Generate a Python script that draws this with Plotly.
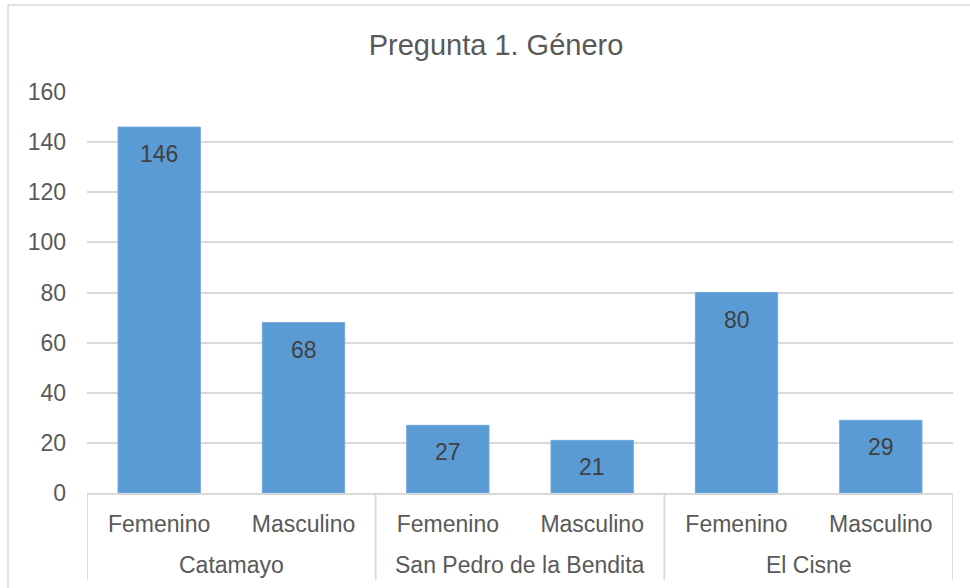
import plotly.graph_objects as go

groups = ["Catamayo", "Catamayo", "San Pedro de la Bendita", "San Pedro de la Bendita", "El Cisne", "El Cisne"]
categories = ["Femenino", "Masculino", "Femenino", "Masculino", "Femenino", "Masculino"]
values = [146, 68, 27, 21, 80, 29]
group_names = ["Catamayo", "San Pedro de la Bendita", "El Cisne"]
y_ticks = [0, 20, 40, 60, 80, 100, 120, 140, 160]

FONT = "Liberation Sans, Arial, sans-serif"
TXT = "#595959"
GRID = "#D9D9D9"

W, H = 970, 588
L, R, T, B = 87, 17, 92, 95
pw, ph = W - L - R, H - T - B

xpos = list(range(len(values)))

fig = go.Figure()
fig.add_trace(go.Bar(
    x=xpos, y=values, width=0.57,
    marker=dict(color="#5B9BD5", line=dict(color="#6FA8DC", width=1)),
    hoverinfo="skip",
))

annotations = []
for xi, v in zip(xpos, values):
    annotations.append(dict(
        x=xi, y=v, xref="x", yref="y", text=str(v), showarrow=False,
        yanchor="middle", yshift=-27,
        font=dict(family=FONT, size=23, color="#404040"),
    ))

# group labels (second row of category axis)
for gi, g in enumerate(group_names):
    annotations.append(dict(
        x=gi * 2 + 0.5, y=(493 - 565) / ph, xref="x", yref="paper",
        text=g, showarrow=False, yanchor="middle",
        font=dict(family=FONT, size=23, color=TXT),
    ))

shapes = []
for d in [-0.5, 1.5, 3.5, 5.5]:
    shapes.append(dict(
        type="line", xref="x", yref="paper", x0=d, x1=d,
        y0=0, y1=(493 - 580) / ph,
        line=dict(color=GRID, width=1.8),
    ))
# chart border
shapes.append(dict(
    type="rect", xref="paper", yref="paper",
    x0=(8 - L) / pw, x1=(W + 20 - L) / pw,
    y0=(493 - H - 20) / ph, y1=(493 - 5) / ph,
    line=dict(color=GRID, width=1.5), fillcolor="rgba(0,0,0,0)", layer="below",
))

fig.update_layout(
    width=W, height=H,
    margin=dict(l=L, r=R, t=T, b=B, pad=0),
    paper_bgcolor="white", plot_bgcolor="white",
    showlegend=False,
    title=dict(
        text="Pregunta 1. Género", x=496 / W, xref="container",
        xanchor="center", y=(H - 45) / H, yanchor="middle",
        font=dict(family=FONT, size=29, color=TXT),
    ),
    font=dict(family=FONT, color=TXT),
    xaxis=dict(
        range=[-0.5, 5.5], tickmode="array", tickvals=xpos, ticktext=categories,
        showgrid=False, zeroline=False, showline=True, linecolor=GRID, linewidth=1.8,
        ticks="", ticklabelstandoff=9,
        tickfont=dict(family=FONT, size=23, color=TXT), fixedrange=True,
    ),
    yaxis=dict(
        range=[0, 160], tickmode="array", tickvals=y_ticks,
        showgrid=True, gridcolor=GRID, gridwidth=1.8, zeroline=False, showline=False,
        ticks="", ticklabelstandoff=20,
        tickfont=dict(family=FONT, size=23, color=TXT), fixedrange=True,
    ),
    annotations=annotations, shapes=shapes,
    bargap=0.43,
)

fig.write_html("out.html", config={"displayModeBar": False})
